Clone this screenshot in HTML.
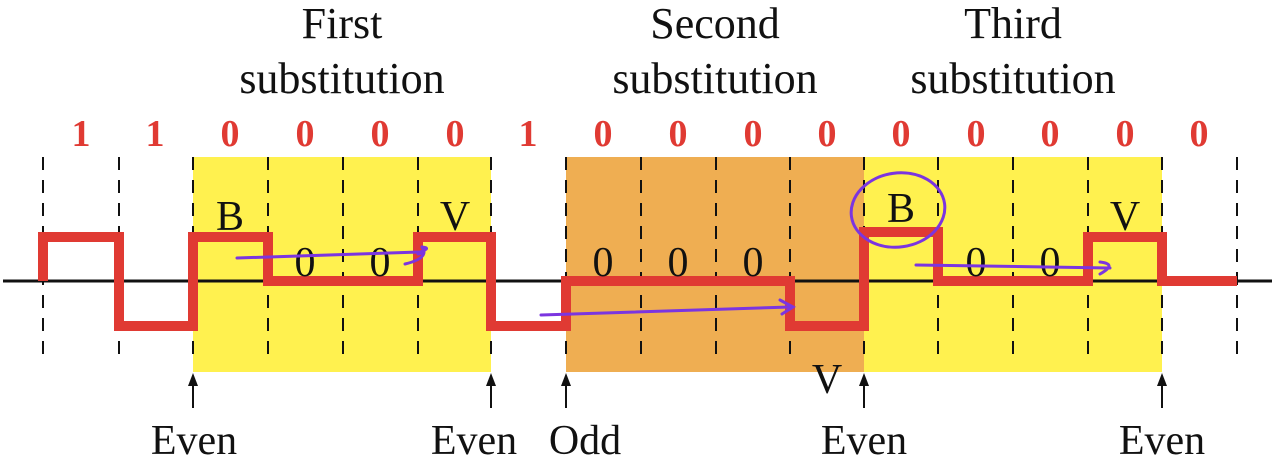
<!DOCTYPE html>
<html><head><style>body{margin:0;background:#fff}svg{display:block}</style></head><body>
<svg width="1280" height="466" xmlns="http://www.w3.org/2000/svg" font-family="Liberation Serif, serif">
<rect x="193" y="157" width="298" height="215" fill="#fff14f"/>
<rect x="566" y="157" width="298" height="215" fill="#efae52"/>
<rect x="864" y="157" width="298" height="215" fill="#fff14f"/>
<g stroke="#111" stroke-width="2" stroke-dasharray="13,10">
<line x1="43" y1="157" x2="43" y2="360"/><line x1="119" y1="157" x2="119" y2="360"/><line x1="193" y1="157" x2="193" y2="360"/><line x1="268" y1="157" x2="268" y2="360"/><line x1="343" y1="157" x2="343" y2="360"/><line x1="418" y1="157" x2="418" y2="360"/><line x1="491" y1="157" x2="491" y2="360"/><line x1="566" y1="157" x2="566" y2="360"/><line x1="641" y1="157" x2="641" y2="360"/><line x1="716" y1="157" x2="716" y2="360"/><line x1="790" y1="157" x2="790" y2="360"/><line x1="864" y1="157" x2="864" y2="360"/><line x1="938" y1="157" x2="938" y2="360"/><line x1="1013" y1="157" x2="1013" y2="360"/><line x1="1088" y1="157" x2="1088" y2="360"/><line x1="1162" y1="157" x2="1162" y2="360"/><line x1="1237" y1="157" x2="1237" y2="360"/>
</g>
<line x1="3" y1="281" x2="1272" y2="281" stroke="#111" stroke-width="3"/>
<polyline fill="none" stroke="#e03a33" stroke-width="10" stroke-linejoin="miter" points="43,281 43,237 119,237 119,326 193,326 193,237 268,237 268,281 418,281 418,237 491,237 491,326 566,326 566,281 790,281 790,326 864,326 864,232 938,232 938,281 1088,281 1088,237 1162,237 1162,281 1237,281"/>
<g fill="#e03a33" font-weight="bold" font-size="38" text-anchor="middle">
<text x="81" y="146">1</text><text x="155" y="146">1</text><text x="230" y="146">0</text><text x="305" y="146">0</text><text x="380" y="146">0</text><text x="455" y="146">0</text><text x="528" y="146">1</text><text x="603" y="146">0</text><text x="678" y="146">0</text><text x="753" y="146">0</text><text x="827" y="146">0</text><text x="901" y="146">0</text><text x="976" y="146">0</text><text x="1050" y="146">0</text><text x="1125" y="146">0</text><text x="1199" y="146">0</text>
</g>
<g fill="#111" font-size="44" text-anchor="middle">
<text x="342" y="38">First</text><text x="342" y="93">substitution</text>
<text x="715" y="38">Second</text><text x="715" y="93">substitution</text>
<text x="1013" y="38">Third</text><text x="1013" y="93">substitution</text>
</g>
<g fill="#111" font-size="42" text-anchor="middle">
<text x="230" y="230">B</text><text x="455" y="230">V</text><text x="305" y="276">0</text><text x="380" y="276">0</text>
<text x="603" y="276">0</text><text x="678" y="276">0</text><text x="753" y="276">0</text><text x="827" y="393">V</text>
<text x="901" y="222">B</text><text x="976" y="276">0</text><text x="1050" y="276">0</text><text x="1125" y="230">V</text>
<text x="194" y="454">Even</text><text x="474" y="454">Even</text><text x="585" y="454">Odd</text><text x="864" y="454">Even</text><text x="1162" y="454">Even</text>
</g>
<g stroke="#111" stroke-width="2" fill="#111">
<line x1="193" y1="408" x2="193" y2="378"/><polygon points="188,386 193,373 198,386" stroke="none"/>
<line x1="491" y1="408" x2="491" y2="378"/><polygon points="486,386 491,373 496,386" stroke="none"/>
<line x1="566" y1="408" x2="566" y2="378"/><polygon points="561,386 566,373 571,386" stroke="none"/>
<line x1="864" y1="408" x2="864" y2="378"/><polygon points="859,386 864,373 869,386" stroke="none"/>
<line x1="1162" y1="408" x2="1162" y2="378"/><polygon points="1157,386 1162,373 1167,386" stroke="none"/>
</g>
<g fill="none" stroke="#7b35e0" stroke-width="3" stroke-linecap="round">
<path d="M237,258 L420,252 Q432,248 422,247 M418,254 Q428,252 422,247 M405,264 Q430,258 422,247"/>
<path d="M541,315 L790,307 M780,300 L793,307 L782,314"/>
<path d="M916,265 L1110,268 M1100,262 Q1118,264 1100,274"/>
<ellipse cx="898" cy="210" rx="47" ry="37" transform="rotate(-8 898 210)"/>
</g>
</svg>
</body></html>
